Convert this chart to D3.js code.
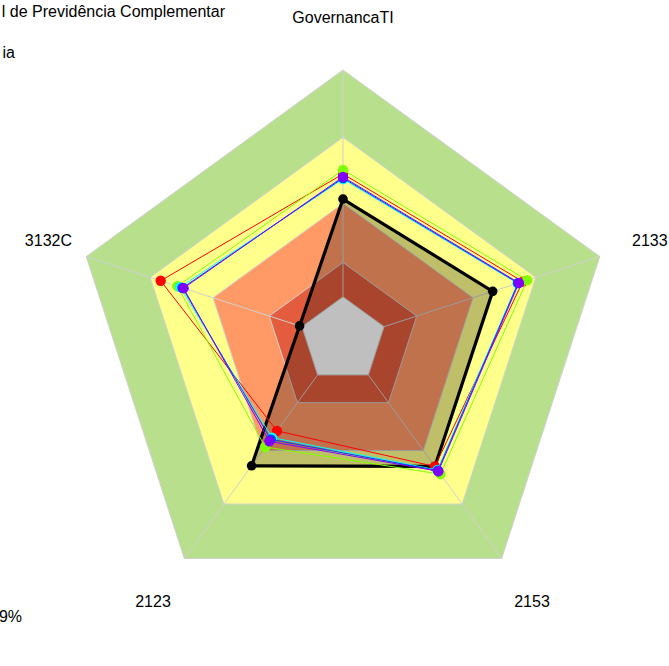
<!DOCTYPE html>
<html><head><meta charset="utf-8">
<script src="https://cdn.jsdelivr.net/npm/d3@7"></script>
<style>body{margin:0;background:#fff}svg{display:block}text{font-family:"Liberation Sans",Arial,sans-serif;font-size:16px;fill:#000}</style>
</head><body>
<script>
const axes = ["GovernancaTI","3132C","2123","2153","2133"];
const bandLevels = [16, 28.7, 50.6, 75.1, 100];
const bandColors = ["#ffffff","#e35c3d","#ff9966","#ffff8c","#b8e08c"];
const seriesNames = ["Entidade","A","B","C","D","E"];
const seriesColors = ["#000000","#ff0000","#80ff00","#00ffff","#0040ff","#8000ff"];
const valBlack  = [52.2, 16.9, 57.6, 57.9, 58.3];
const valRed    = [61.5, 71.0, 41.6, 57.9, 70.0];
const valGreen  = [63.0, 64.5, 49.0, 61.4, 71.7];
const valCyan   = [59.6, 63.4, 44.7, 59.5, 68.0];
const valBlue   = [60.0, 62.5, 45.5, 59.8, 68.2];
const valPurple = [60.4, 62.1, 46.4, 60.1, 68.5];
const seriesValues = [valBlack, valRed, valGreen, valCyan, valBlue, valPurple];

const W = 669, H = 666, cx = 343, cy = 340, R = 270;
const svg = d3.select("body").append("svg").attr("width", W).attr("height", H);
const r = d3.scaleLinear().domain([0,100]).range([0,R]);
const ang = d3.scaleLinear().domain([0, axes.length]).range([Math.PI/2, Math.PI/2 + 2*Math.PI]);
const pt = (v,i) => [cx + r(v)*Math.cos(ang(i)), cy - r(v)*Math.sin(ang(i))];
const line = d3.line();
const ring = v => axes.map((a,i)=>pt(v,i));

const bands = bandLevels.map((l,i)=>({l, c: bandColors[i]})).reverse();
svg.append("g").selectAll("path").data(bands).join("path")
  .attr("d", d => line(ring(d.l)) + "Z")
  .attr("fill", d => d.c).attr("stroke", "#d0d0d0").attr("stroke-width", 1);
svg.append("g").selectAll("line").data(axes).join("line")
  .attr("x1",(d,i)=>pt(bandLevels[0],i)[0]).attr("y1",(d,i)=>pt(bandLevels[0],i)[1])
  .attr("x2",(d,i)=>pt(100,i)[0]).attr("y2",(d,i)=>pt(100,i)[1])
  .attr("stroke","#d0d0d0").attr("stroke-width",1);

svg.append("path").attr("d", line(valBlack.map((v,i)=>pt(v,i)))+"Z")
  .attr("fill","rgba(0,0,0,0.25)").attr("stroke","none");

seriesValues.forEach((vals, s) => {
  const g = svg.append("g");
  const pts = vals.map((v,i)=>pt(v,i));
  g.append("path").attr("d", line(pts)+"Z").attr("fill","none")
    .attr("stroke", seriesColors[s]).attr("stroke-width", s===0 ? 3.2 : 1)
    .attr("stroke-linejoin","miter");
  g.selectAll("circle").data(pts).join("circle")
    .attr("cx", d=>d[0]).attr("cy", d=>d[1]).attr("r", s===0 ? 4.8 : 5.2)
    .attr("fill", seriesColors[s]);
});

const labelPos = [[343,23,"middle"],[72,246,"end"],[153,607,"middle"],[532,607,"middle"],[632,246,"start"]];
svg.append("g").selectAll("text").data(axes).join("text")
  .attr("x",(d,i)=>labelPos[i][0]).attr("y",(d,i)=>labelPos[i][1])
  .attr("text-anchor",(d,i)=>labelPos[i][2]).text(d=>d);

svg.append("text").attr("x",225).attr("y",17).attr("text-anchor","end").text("l de Previdência Complementar");
svg.append("text").attr("x",15).attr("y",58).attr("text-anchor","end").text("ia");
svg.append("text").attr("x",22).attr("y",622).attr("text-anchor","end").text("9%");
</script>
</body></html>
